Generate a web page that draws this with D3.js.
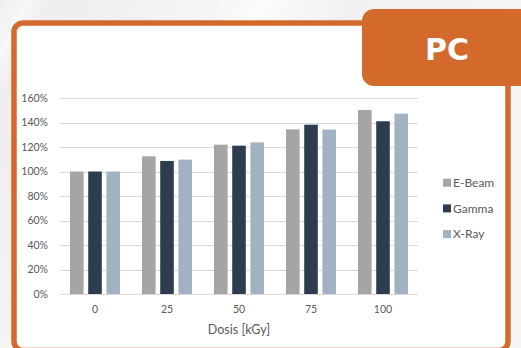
<!DOCTYPE html>
<html>
<head>
<meta charset="utf-8">
<script src="https://cdn.jsdelivr.net/npm/d3@7"></script>
<style>
  html, body { margin: 0; padding: 0; background: #f2f2f2; }
  svg { display: block; }
</style>
</head>
<body>
<svg id="chart" width="521" height="348"></svg>
<script>
// Relative property after irradiation, per dose (kGy)
const categories = ["0", "25", "50", "75", "100"];
const seriesNames = ["E-Beam", "Gamma", "X-Ray"];
const eBeam = [1.00, 1.124, 1.219, 1.344, 1.502];
const gamma = [1.00, 1.086, 1.211, 1.382, 1.410];
const xRay  = [1.00, 1.097, 1.238, 1.342, 1.472];
const yTicks = [0, 0.2, 0.4, 0.6, 0.8, 1.0, 1.2, 1.4, 1.6];
const xTitle = "Dosis [kGy]";
const badge = "PC";

const colors = { "E-Beam": "#a5a5a5", "Gamma": "#2d3d50", "X-Ray": "#a1b2c3" };
const orange = "#d4692c";
const textCol = "#595959";
const font = "Lato, 'Open Sans', sans-serif";

const values = { "E-Beam": eBeam, "Gamma": gamma, "X-Ray": xRay };
const rows = categories.map((c, i) => ({
  cat: c,
  vals: seriesNames.map(s => ({ key: s, v: values[s][i] }))
}));

const svg = d3.select("#chart");

// soft streaked backdrop
const defs = svg.append("defs");
const bg = defs.append("linearGradient").attr("id", "bg")
  .attr("x1", "0").attr("y1", "0").attr("x2", "1").attr("y2", "0.35");
[[0, "#efefef"], [0.05, "#f7f7f7"], [0.09, "#eeeeee"], [0.35, "#f4f4f4"], [0.45, "#fbfbfb"], [0.6, "#f1f1f1"], [1, "#f5f5f5"]]
  .forEach(([o, c]) => bg.append("stop").attr("offset", o).attr("stop-color", c));
svg.append("rect").attr("width", 521).attr("height", 348).attr("fill", "url(#bg)");

// framed panel (bottom edge runs just past the page)
svg.append("rect")
  .attr("x", 14).attr("y", 23).attr("width", 494).attr("height", 327.5)
  .attr("rx", 9).attr("ry", 9)
  .attr("fill", "#ffffff").attr("stroke", orange).attr("stroke-width", 5.5);

// badge tab
svg.append("rect")
  .attr("x", 362).attr("y", 9).attr("width", 175).attr("height", 77)
  .attr("rx", 12).attr("ry", 12).attr("fill", orange);
svg.append("text")
  .attr("x", 447).attr("y", 60).attr("text-anchor", "middle")
  .attr("font-family", "'DejaVu Sans', Verdana, sans-serif")
  .attr("font-weight", "bold").attr("font-size", 30)
  .attr("fill", "#ffffff").text(badge);

// scales
const x0 = d3.scaleBand().domain(categories).range([59, 419]).padding(0);
const x1 = d3.scaleBand().domain(seriesNames).paddingInner(0.253).paddingOuter(0);
const y = d3.scaleLinear().domain([0, 1.6]).range([294, 98]);

// gridlines
svg.append("g").selectAll("line").data(yTicks).join("line")
  .attr("x1", 60).attr("x2", 418)
  .attr("y1", d => Math.round(y(d)) + 0.5).attr("y2", d => Math.round(y(d)) + 0.5)
  .attr("stroke", "#d9d9d9").attr("stroke-width", 1);

// y axis labels
svg.append("g").selectAll("text").data(yTicks).join("text")
  .attr("x", 48).attr("y", d => y(d) + 3.8)
  .attr("text-anchor", "end")
  .attr("font-family", font).attr("font-size", 10.5).attr("fill", textCol)
  .text(d => d3.format(".0%")(d));

// bars
const groups = svg.append("g").selectAll("g").data(rows).join("g")
  .attr("transform", d => `translate(${x0(d.cat) + x0.bandwidth() / 2 - 25},0)`);
x1.range([0, 50]);
groups.selectAll("rect").data(d => d.vals).join("rect")
  .attr("x", d => x1(d.key))
  .attr("y", d => y(d.v))
  .attr("width", x1.bandwidth())
  .attr("height", d => y(0) - y(d.v))
  .attr("fill", d => colors[d.key]);

// category labels
svg.append("g").selectAll("text").data(categories).join("text")
  .attr("x", d => x0(d) + x0.bandwidth() / 2).attr("y", 313)
  .attr("text-anchor", "middle")
  .attr("font-family", font).attr("font-size", 10.5).attr("fill", textCol)
  .text(d => d);

// axis title
svg.append("text")
  .attr("x", 239).attr("y", 333.5).attr("text-anchor", "middle")
  .attr("font-family", font).attr("font-size", 12.5).attr("fill", textCol)
  .text(xTitle);

// legend
const legend = svg.append("g").selectAll("g").data(seriesNames).join("g")
  .attr("transform", (d, i) => `translate(443,${182.7 + i * 25.7})`);
legend.append("rect")
  .attr("x", 0).attr("y", -4).attr("width", 8).attr("height", 8)
  .attr("fill", d => colors[d]);
legend.append("text")
  .attr("x", 10).attr("y", 4.3)
  .attr("font-family", font).attr("font-size", 12).attr("fill", textCol)
  .text(d => d);
</script>
</body>
</html>
